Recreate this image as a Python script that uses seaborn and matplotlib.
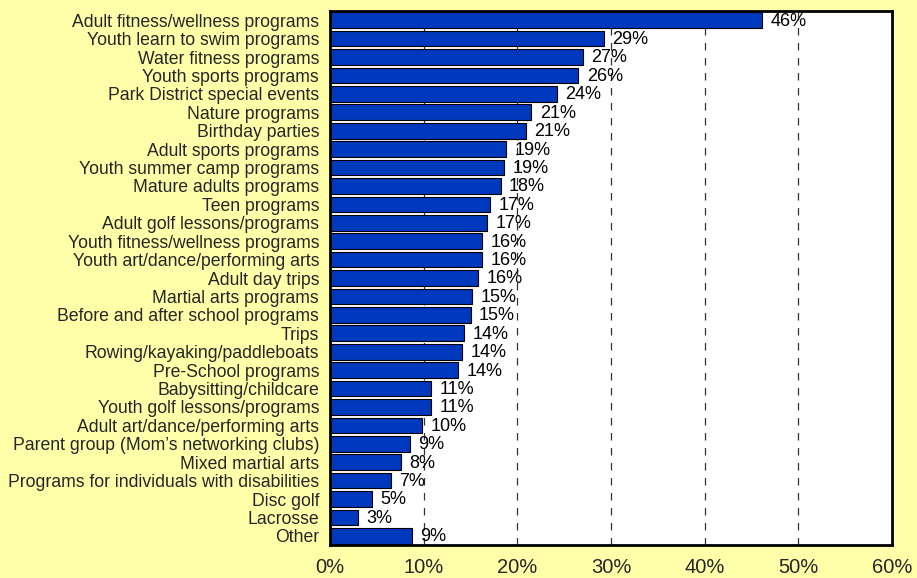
import matplotlib
matplotlib.use("Agg")
import matplotlib.pyplot as plt
import seaborn as sns
import pandas as pd

# Program interest, share of respondents (%)
programs = [
    "Adult fitness/wellness programs", "Youth learn to swim programs",
    "Water fitness programs", "Youth sports programs",
    "Park District special events", "Nature programs", "Birthday parties",
    "Adult sports programs", "Youth summer camp programs",
    "Mature adults programs", "Teen programs", "Adult golf lessons/programs",
    "Youth fitness/wellness programs", "Youth art/dance/performing arts",
    "Adult day trips", "Martial arts programs",
    "Before and after school programs", "Trips",
    "Rowing/kayaking/paddleboats", "Pre-School programs",
    "Babysitting/childcare", "Youth golf lessons/programs",
    "Adult art/dance/performing arts", "Parent group (Mom\u2019s networking clubs)",
    "Mixed martial arts", "Programs for individuals with disabilities",
    "Disc golf", "Lacrosse", "Other",
]
shares = [46.1, 29.2, 27.0, 26.5, 24.2, 21.5, 20.9, 18.8, 18.6, 18.2,
          17.1, 16.8, 16.2, 16.2, 15.8, 15.2, 15.0, 14.3, 14.1, 13.7,
          10.8, 10.8, 9.8, 8.5, 7.6, 6.5, 4.5, 3.0, 8.7]
share_labels = ["46%", "29%", "27%", "26%", "24%", "21%", "21%", "19%", "19%",
                "18%", "17%", "17%", "16%", "16%", "16%", "15%", "15%", "14%",
                "14%", "14%", "11%", "11%", "10%", "9%", "8%", "7%", "5%",
                "3%", "9%"]
x_ticks = [0, 10, 20, 30, 40, 50, 60]

df = pd.DataFrame({"program": programs, "share": shares})

sns.set_style("white")
plt.rcParams["font.family"] = ["Liberation Sans", "DejaVu Sans"]

bg = "#FFFFAA"
fig = plt.figure(figsize=(9.17, 5.78), dpi=100, facecolor=bg)
ax = fig.add_axes([0.36, 0.057, 0.6127, 0.924])
ax.set_facecolor("white")

sns.barplot(data=df, x="share", y="program", orient="h", color="#0038BE",
            saturation=1, edgecolor="black", linewidth=0.8, width=0.85, ax=ax)

for i, (v, lab) in enumerate(zip(shares, share_labels)):
    ax.text(v + 0.9, i + 0.05, lab, va="center", ha="left", fontsize=13, color="black")

ax.set_xlim(0, 60)
ax.set_ylim(len(programs) - 0.5, -0.5)
ax.set_xticks(x_ticks)
ax.set_xticklabels([f"{t}%" for t in x_ticks], fontsize=14.5)
ax.tick_params(axis="x", length=0, pad=9)
ax.tick_params(axis="y", length=0, pad=8, labelsize=12.7)
ax.set_xlabel("")
ax.set_ylabel("")

ax.set_axisbelow(True)
for t in x_ticks[1:-1]:
    ax.axvline(t, color="#333333", linestyle=(0, (6, 6)), linewidth=0.9, zorder=0)

for s in ax.spines.values():
    s.set_visible(True)
    s.set_color("black")
    s.set_linewidth(2)

fig.savefig("out.png", dpi=100, facecolor=bg)
